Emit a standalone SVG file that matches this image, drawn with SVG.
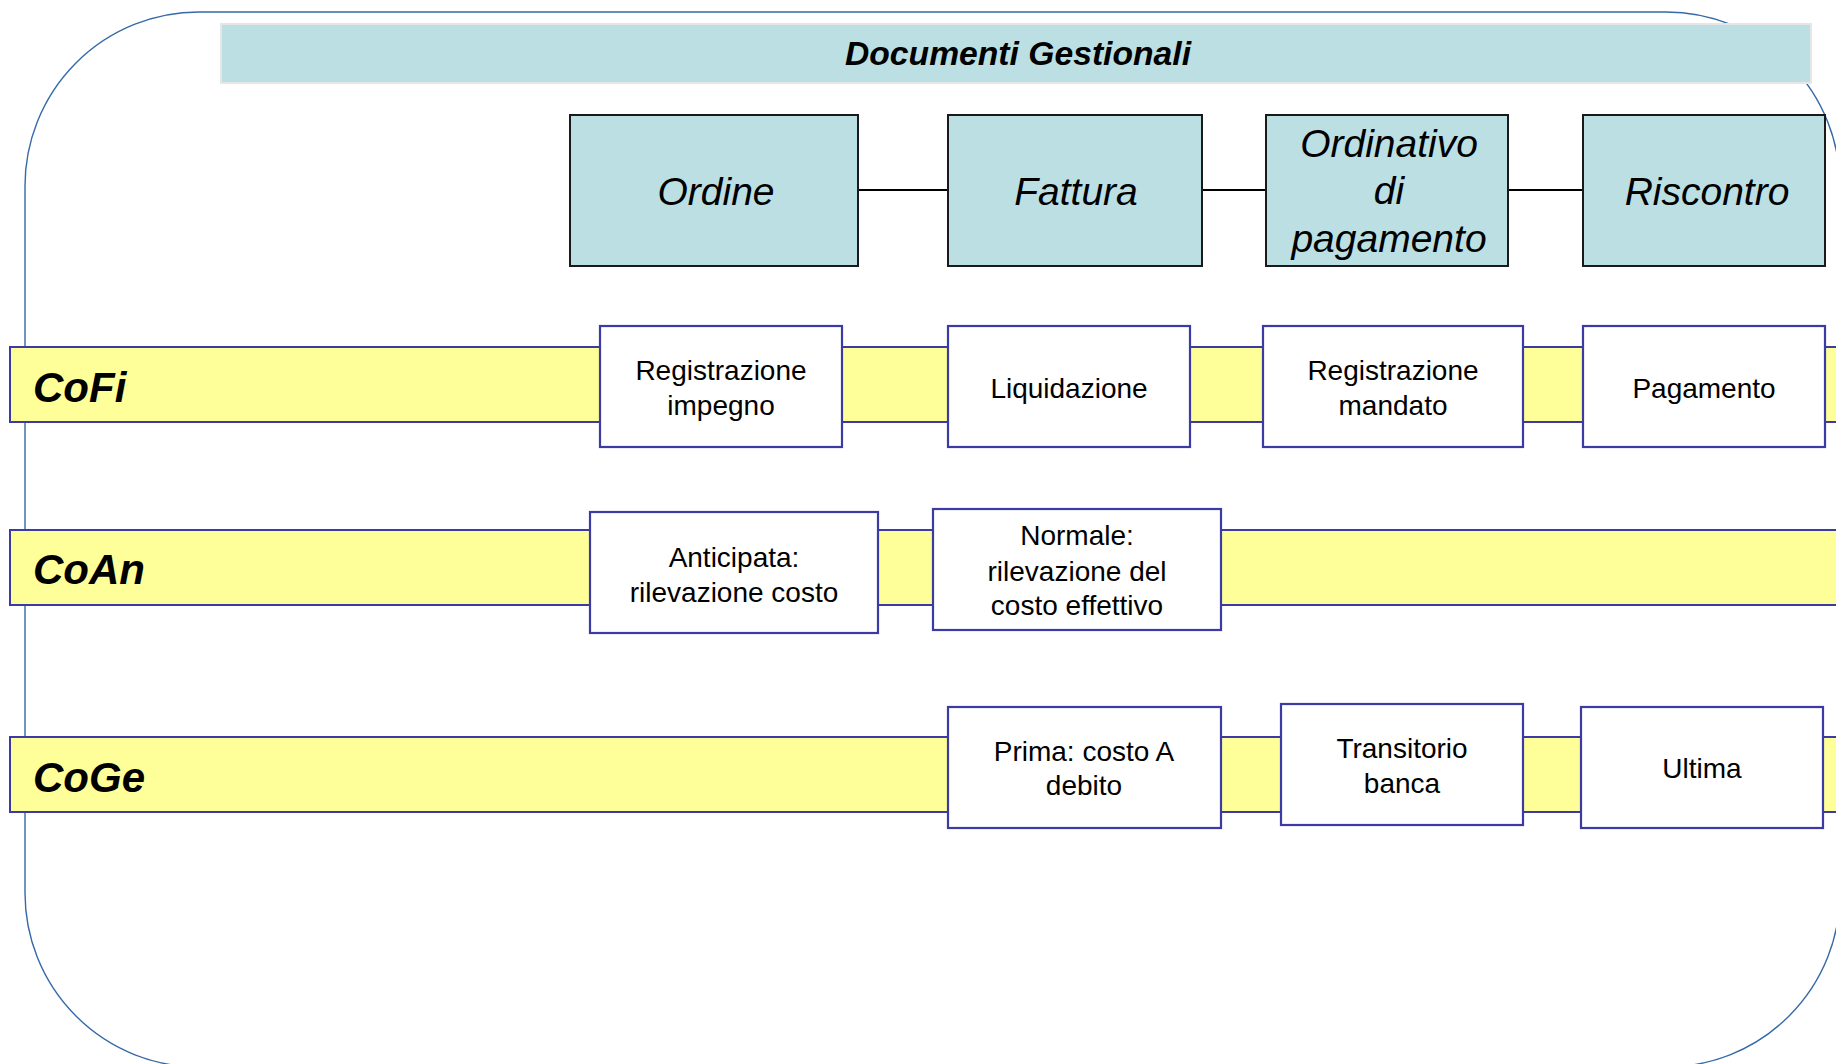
<svg xmlns="http://www.w3.org/2000/svg" width="1836" height="1064" viewBox="0 0 1836 1064">
  <style>
    .frame { fill: none; stroke: #3569A8; stroke-width: 1.4; }
    .titlebar { fill: #BBDFE2; stroke: #E6E6E6; stroke-width: 2; }
    .title { font-family: "Liberation Sans", Arial, sans-serif; font-weight: bold; font-style: italic; font-size: 33px; fill: #000; text-anchor: middle; }
    .doc { fill: #BBDFE2; stroke: #1A1A1A; stroke-width: 2; }
    .doclabel { font-family: "Liberation Sans", Arial, sans-serif; font-style: italic; font-size: 39px; fill: #000; text-anchor: middle; }
    .lane { fill: #FFFF99; stroke: #3B3BA3; stroke-width: 2; }
    .lanelabel { font-family: "Liberation Sans", Arial, sans-serif; font-weight: bold; font-style: italic; font-size: 42px; fill: #000; }
    .step { fill: #FFFFFF; stroke: #3B3BA3; stroke-width: 2.2; }
    .steplabel { font-family: "Liberation Sans", Arial, sans-serif; font-size: 28px; fill: #000; text-anchor: middle; }
    .link { stroke: #000; stroke-width: 2; fill: none; }
  </style>

  <!-- rounded frame, running off the right and bottom edges -->
  <rect class="frame" x="25" y="12" width="1815" height="1055" rx="174" ry="174"/>

  <!-- header bar -->
  <g id="header">
    <rect class="titlebar" x="221" y="24" width="1590" height="59"/>
    <text class="title" x="1018" y="65" textLength="346" lengthAdjust="spacingAndGlyphs">Documenti Gestionali</text>
  </g>

  <!-- accounting lanes -->
  <g id="lane-cofi">
    <rect class="lane" x="10" y="347" width="1840" height="75"/>
    <text class="lanelabel" x="33" y="402">CoFi</text>
  </g>
  <g id="lane-coan">
    <rect class="lane" x="10" y="530" width="1840" height="75"/>
    <text class="lanelabel" x="33" y="584">CoAn</text>
  </g>
  <g id="lane-coge">
    <rect class="lane" x="10" y="737" width="1840" height="75"/>
    <text class="lanelabel" x="33" y="792">CoGe</text>
  </g>

  <!-- links between the documents -->
  <g id="connectors">
    <line class="link" x1="858" y1="190" x2="947" y2="190"/>
    <line class="link" x1="1202" y1="190" x2="1266" y2="190"/>
    <line class="link" x1="1508" y1="190" x2="1583" y2="190"/>
  </g>

  <!-- documents -->
  <g id="doc-ordine">
    <rect class="doc" x="570" y="115" width="288" height="151"/>
    <text class="doclabel" x="716" y="205">Ordine</text>
  </g>
  <g id="doc-fattura">
    <rect class="doc" x="948" y="115" width="254" height="151"/>
    <text class="doclabel" x="1076" y="205">Fattura</text>
  </g>
  <g id="doc-ordinativo">
    <rect class="doc" x="1266" y="115" width="242" height="151"/>
    <text class="doclabel" x="1389" y="157">Ordinativo</text>
    <text class="doclabel" x="1389" y="204">di</text>
    <text class="doclabel" x="1389" y="252">pagamento</text>
  </g>
  <g id="doc-riscontro">
    <rect class="doc" x="1583" y="115" width="242" height="151"/>
    <text class="doclabel" x="1707" y="205">Riscontro</text>
  </g>

  <!-- CoFi steps -->
  <g id="cofi-impegno">
    <rect class="step" x="600" y="326" width="242" height="121"/>
    <text class="steplabel" x="721" y="380">Registrazione</text>
    <text class="steplabel" x="721" y="415">impegno</text>
  </g>
  <g id="cofi-liquidazione">
    <rect class="step" x="948" y="326" width="242" height="121"/>
    <text class="steplabel" x="1069" y="398">Liquidazione</text>
  </g>
  <g id="cofi-mandato">
    <rect class="step" x="1263" y="326" width="260" height="121"/>
    <text class="steplabel" x="1393" y="380">Registrazione</text>
    <text class="steplabel" x="1393" y="415">mandato</text>
  </g>
  <g id="cofi-pagamento">
    <rect class="step" x="1583" y="326" width="242" height="121"/>
    <text class="steplabel" x="1704" y="398">Pagamento</text>
  </g>

  <!-- CoAn steps -->
  <g id="coan-anticipata">
    <rect class="step" x="590" y="512" width="288" height="121"/>
    <text class="steplabel" x="734" y="567">Anticipata:</text>
    <text class="steplabel" x="734" y="602">rilevazione costo</text>
  </g>
  <g id="coan-normale">
    <rect class="step" x="933" y="509" width="288" height="121"/>
    <text class="steplabel" x="1077" y="545">Normale:</text>
    <text class="steplabel" x="1077" y="581">rilevazione del</text>
    <text class="steplabel" x="1077" y="615">costo effettivo</text>
  </g>

  <!-- CoGe steps -->
  <g id="coge-prima">
    <rect class="step" x="948" y="707" width="273" height="121"/>
    <text class="steplabel" x="1084" y="761">Prima: costo A</text>
    <text class="steplabel" x="1084" y="795">debito</text>
  </g>
  <g id="coge-transitorio">
    <rect class="step" x="1281" y="704" width="242" height="121"/>
    <text class="steplabel" x="1402" y="758">Transitorio</text>
    <text class="steplabel" x="1402" y="793">banca</text>
  </g>
  <g id="coge-ultima">
    <rect class="step" x="1581" y="707" width="242" height="121"/>
    <text class="steplabel" x="1702" y="778">Ultima</text>
  </g>
</svg>
